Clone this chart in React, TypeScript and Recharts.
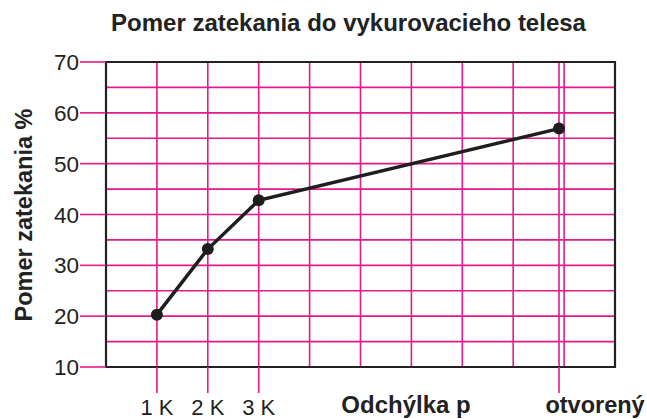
import React from 'react';
import { LineChart, Line, XAxis, YAxis, CartesianGrid, ReferenceArea } from 'recharts';

const categories = ['1 K', '2 K', '3 K', 'otvorený'];
const positions = [1, 2, 3, 8.9];
const values = [20.3, 33.2, 42.8, 56.9];
const yTicks = [10, 15, 20, 25, 30, 35, 40, 45, 50, 55, 60, 65, 70];
const xGrid = [1, 2, 3, 4, 5, 6, 7, 8, 8.9, 9];
const title = 'Pomer zatekania do vykurovacieho telesa';
const yTitle = 'Pomer zatekania %';
const xTitle = 'Odchýlka p';

const MAG = '#e6188c';
const FONT = '"Liberation Sans", Arial, Helvetica, sans-serif';

const data = categories.map((c, i) => ({ name: c, x: positions[i], y: values[i] }));

const XTick = (props: any) => {
  const { x, y, payload } = props;
  const idx = positions.indexOf(payload.value);
  if (idx < 0) return null;
  const label = categories[idx];
  const last = idx === categories.length - 1;
  return (
    <g>
      <line x1={x} x2={x} y1={y} y2={y + 26} stroke={MAG} strokeWidth={1.6} />
      <text
        x={x + (last ? 36 : 0)}
        y={y + (last ? 46 : 48)}
        textAnchor="middle"
        fontSize={last ? 23.5 : 22}
        fontWeight={last ? 'bold' : 'normal'}
        fontFamily={FONT}
        fill="#222"
      >
        {label}
      </text>
    </g>
  );
};

const YTick = (props: any) => {
  const { x, y, payload } = props;
  if (payload.value % 10 !== 0) return null;
  return (
    <g>
      <line x1={x - 26} x2={x} y1={y} y2={y} stroke={MAG} strokeWidth={1.6} />
      <text x={x - 27} y={y + 8} textAnchor="end" fontSize={22.5} fontFamily={FONT} fill="#222">
        {payload.value}
      </text>
    </g>
  );
};

export default function App() {
  return (
    <div style={{ position: 'absolute', left: 0, top: 0, width: 647, height: 419, background: '#fff' }}>
      <div
        style={{
          position: 'absolute',
          left: 0,
          top: 9,
          width: 697,
          textAlign: 'center',
          fontFamily: FONT,
          fontWeight: 'bold',
          fontSize: 24,
          color: '#222',
          lineHeight: '28px',
        }}
      >
        {title}
      </div>
      <LineChart width={647} height={419} data={data} margin={{ top: 62, right: 32, bottom: 0, left: 46 }}>
        <CartesianGrid stroke={MAG} strokeWidth={1.6} />
        <XAxis
          type="number"
          dataKey="x"
          domain={[0, 10]}
          ticks={xGrid}
          interval={0}
          tick={<XTick />}
          tickLine={false}
          axisLine={false}
          tickSize={0}
          tickMargin={0}
          height={52}
          label={(p: any) => {
            const vb = p.viewBox;
            return (
              <text x={406} y={vb.y + 46} textAnchor="middle" fontSize={24} fontWeight="bold" fontFamily={FONT} fill="#222">
                {xTitle}
              </text>
            );
          }}
        />
        <YAxis
          type="number"
          domain={[10, 70]}
          ticks={yTicks}
          interval={0}
          tick={<YTick />}
          tickLine={false}
          axisLine={false}
          tickSize={0}
          tickMargin={0}
          width={60}
          label={() => (
            <text
              x={0}
              y={0}
              transform={`translate(32, 215) rotate(-90)`}
              textAnchor="middle"
              fontSize={23.5}
              fontWeight="bold"
              fontFamily={FONT}
              fill="#222"
            >
              {yTitle}
            </text>
          )}
        />
        <ReferenceArea x1={0} x2={10} y1={10} y2={70} fill="none" stroke="#222" strokeWidth={2.2} ifOverflow="visible" />
        <Line
          type="linear"
          dataKey="y"
          stroke="#1e1e1e"
          strokeWidth={3.5}
          dot={{ r: 6, fill: '#1e1e1e', stroke: '#1e1e1e', strokeWidth: 0 }}
          isAnimationActive={false}
        />
      </LineChart>
    </div>
  );
}
